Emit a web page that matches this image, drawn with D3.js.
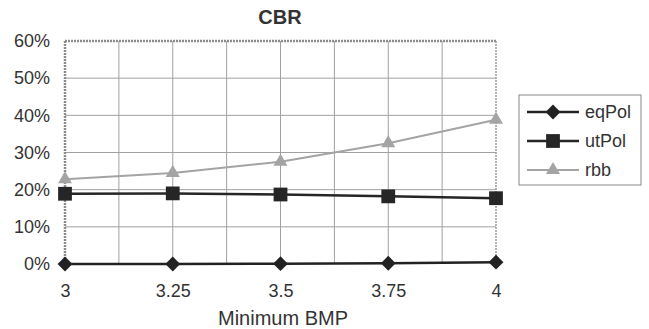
<!DOCTYPE html>
<html>
<head>
<meta charset="utf-8">
<script src="https://cdn.jsdelivr.net/npm/d3@7"></script>
<style>
  body { margin: 0; background: #fff; }
  svg { font-family: "Liberation Sans", Arial, sans-serif; }
</style>
</head>
<body>
<svg width="649" height="329"></svg>
<script>
var bmp = [3, 3.25, 3.5, 3.75, 4];
var eqPol = [0.000, 0.000, 0.001, 0.002, 0.005];
var utPol = [0.189, 0.190, 0.187, 0.182, 0.177];
var rbb = [0.228, 0.245, 0.275, 0.325, 0.388];
var xTicks = [3, 3.25, 3.5, 3.75, 4];
var yTicks = [0, 0.1, 0.2, 0.3, 0.4, 0.5, 0.6];

var svg = d3.select("svg"),
  margin = { top: 41, left: 65 },
  width = 431,
  height = 223,
  g = svg.append("g").attr("transform", "translate(" + margin.left + "," + margin.top + ")");

var x = d3.scaleLinear().domain([3, 4]).range([0, width]);
var y = d3.scaleLinear().domain([0, 0.6]).range([height, 0]);

// grid, every 0.125 on x and 0.1 on y
var xGrid = d3.range(1, 8).map(function (i) { return 3 + i * 0.125; });
g.append("g").selectAll("line").data(xGrid).enter().append("line")
  .attr("x1", function (d) { return x(d); }).attr("x2", function (d) { return x(d); })
  .attr("y1", 0).attr("y2", height)
  .attr("stroke", "#a0a0a0").attr("stroke-width", 1);
g.append("g").selectAll("line").data(yTicks.slice(1, -1)).enter().append("line")
  .attr("x1", 0).attr("x2", width)
  .attr("y1", function (d) { return y(d); }).attr("y2", function (d) { return y(d); })
  .attr("stroke", "#a0a0a0").attr("stroke-width", 1);

// plot border
g.append("line").attr("x1", 0).attr("x2", width).attr("y1", 0).attr("y2", 0)
  .attr("stroke", "#8c8c8c").attr("stroke-width", 2.5).attr("stroke-dasharray", "2,1");
g.append("line").attr("x1", 0).attr("x2", 0).attr("y1", 0).attr("y2", height)
  .attr("stroke", "#8c8c8c").attr("stroke-width", 2.5).attr("stroke-dasharray", "2,1");
g.append("line").attr("x1", width).attr("x2", width).attr("y1", 0).attr("y2", height)
  .attr("stroke", "#9a9a9a").attr("stroke-width", 1.5).attr("stroke-dasharray", "2,1");

// axes (labels only)
var xAxis = g.append("g").attr("transform", "translate(0," + height + ")")
  .call(d3.axisBottom(x).tickValues(xTicks).tickSize(0).tickPadding(20).tickFormat(d3.format("")));
var yAxis = g.append("g")
  .call(d3.axisLeft(y).tickValues(yTicks).tickSize(0).tickPadding(15).tickFormat(d3.format(".0%")));
[xAxis, yAxis].forEach(function (a) {
  a.select(".domain").remove();
  a.attr("font-size", 18).attr("font-family", "Liberation Sans, Arial, sans-serif");
  a.selectAll("text").attr("fill", "#333");
});

var series = [
  { name: "eqPol", values: eqPol, color: "#222", width: 2.5, marker: "diamond" },
  { name: "utPol", values: utPol, color: "#262626", width: 2.5, marker: "square" },
  { name: "rbb", values: rbb, color: "#a4a4a4", width: 2, marker: "triangle" }
];

var symbols = { diamond: d3.symbolDiamond2, square: d3.symbolSquare, triangle: d3.symbolTriangle };
var sizes = { diamond: 140, square: 190, triangle: 85 };

var line = d3.line().x(function (d, i) { return x(bmp[i]); }).y(function (d) { return y(d); });

series.slice().reverse().forEach(function (s) {
  g.append("path").datum(s.values).attr("d", line)
    .attr("fill", "none").attr("stroke", s.color).attr("stroke-width", s.width);
  g.append("g").selectAll("path").data(s.values).enter().append("path")
    .attr("transform", function (d, i) { return "translate(" + x(bmp[i]) + "," + y(d) + ")"; })
    .attr("d", d3.symbol().type(symbols[s.marker]).size(sizes[s.marker]))
    .attr("fill", s.color);
});

// title and axis title
svg.append("text").attr("x", 280).attr("y", 24).attr("text-anchor", "middle")
  .attr("font-size", 20).attr("font-weight", "bold").attr("fill", "#333").text("CBR");
svg.append("text").attr("x", 283).attr("y", 325).attr("text-anchor", "middle")
  .attr("font-size", 20).attr("fill", "#333").text("Minimum BMP");

// legend
var legend = svg.append("g").attr("transform", "translate(519,95)");
legend.append("rect").attr("width", 122).attr("height", 90)
  .attr("fill", "#fff").attr("stroke", "#888").attr("stroke-width", 1);
var item = legend.selectAll("g").data(series).enter().append("g")
  .attr("transform", function (d, i) { return "translate(0," + (17 + i * 29) + ")"; });
item.append("line").attr("x1", 8).attr("x2", 60)
  .attr("stroke", function (d) { return d.color; }).attr("stroke-width", function (d) { return d.width; });
item.append("path").attr("transform", "translate(34,0)")
  .attr("d", function (d) { return d3.symbol().type(symbols[d.marker]).size(sizes[d.marker])(); })
  .attr("fill", function (d) { return d.color; });
item.append("text").attr("x", 66).attr("dy", "0.35em")
  .attr("font-size", 18).attr("fill", "#333").text(function (d) { return d.name; });
</script>
</body>
</html>
